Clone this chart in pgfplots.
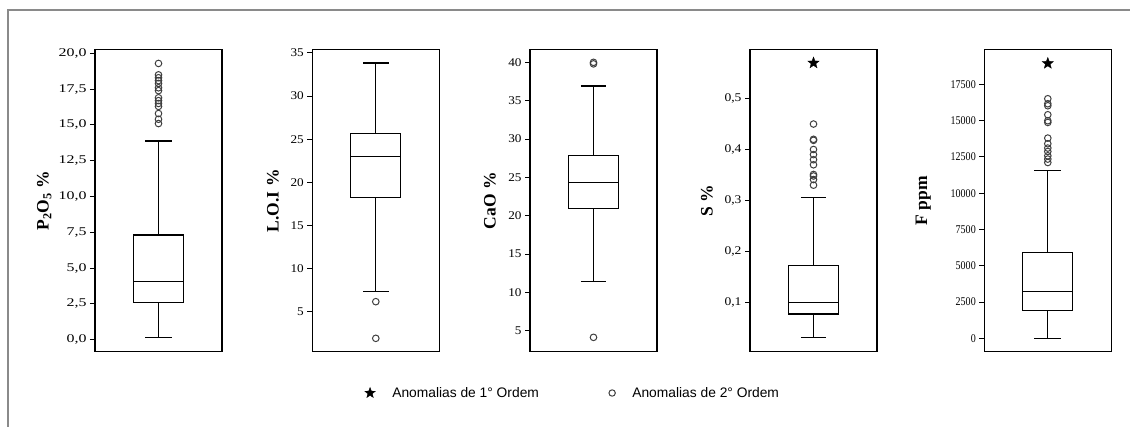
\documentclass[border=0pt]{standalone}
\usepackage{pgfplots}
\pgfplotsset{compat=1.18}
\usepgfplotslibrary{statistics}
\usepackage{fontspec}
\setmainfont{Liberation Serif}
\newfontfamily\legfont{Liberation Sans}
\newfontfamily\tickA[FakeStretch=1.35]{Liberation Serif}
\newfontfamily\tickB[FakeStretch=1.12]{Liberation Serif}
\newfontfamily\tickC[FakeStretch=1.15]{Liberation Serif}
\newfontfamily\tickD[FakeStretch=0.85]{Liberation Serif}

\pgfdeclareplotmark{fstar}{%
  \pgfpathmoveto{\pgfpointpolar{90}{\pgfplotmarksize}}%
  \pgfpathlineto{\pgfpointpolar{126}{0.42\pgfplotmarksize}}%
  \pgfpathlineto{\pgfpointpolar{162}{\pgfplotmarksize}}%
  \pgfpathlineto{\pgfpointpolar{198}{0.42\pgfplotmarksize}}%
  \pgfpathlineto{\pgfpointpolar{234}{\pgfplotmarksize}}%
  \pgfpathlineto{\pgfpointpolar{270}{0.42\pgfplotmarksize}}%
  \pgfpathlineto{\pgfpointpolar{306}{\pgfplotmarksize}}%
  \pgfpathlineto{\pgfpointpolar{342}{0.42\pgfplotmarksize}}%
  \pgfpathlineto{\pgfpointpolar{18}{\pgfplotmarksize}}%
  \pgfpathlineto{\pgfpointpolar{54}{0.42\pgfplotmarksize}}%
  \pgfpathclose
  \pgfusepathqfillstroke}

\definecolor{outl}{HTML}{404040}
\definecolor{frame}{HTML}{8A8A8A}

\pgfplotsset{
  panel/.style={
    scale only axis, width=127pt, height=302pt, anchor=south west,
    xmin=0, xmax=1, xtick=\empty,
    tick align=outside, ytick pos=left, major tick length=5pt,
    axis line style={line width=1.1pt}, major tick style={line width=1pt, black},
    scaled y ticks=false,
    /pgf/number format/assume math mode=true,
    ylabel style={font=\bfseries\fontsize{17.5}{19}\selectfont, anchor=center},
    boxplot/draw direction=y,
    clip=false,
  },
  outl/.style={only marks, mark=o, mark size=3.3pt, draw=outl, line width=1pt},
  anom/.style={only marks, mark=fstar, mark size=6pt, draw=black, fill=black, line width=0.3pt},
  bx/.style={draw=black, line width=1.1pt, solid},
}

\begin{document}
\begin{tikzpicture}
\useasboundingbox (0,0) rectangle (1130pt,427pt);
\draw[frame, line width=1.5pt] (1130pt,417pt) -- (8pt,417pt) -- (8pt,0pt);

% legend
\begin{axis}[at={(0pt,0pt)}, anchor=south west, scale only axis,
  width=1130pt, height=427pt, hide axis, xmin=0, xmax=1, ymin=0, ymax=1,
  legend columns=2,
  legend style={at={(0.507,0.0796)}, anchor=center, draw=none, fill=none,
    font=\legfont\fontsize{13.8}{16}\selectfont,
    /tikz/every odd column/.append style={column sep=15pt},
    /tikz/every even column/.append style={column sep=68pt}}]
\addlegendimage{only marks, mark=fstar, mark size=5.5pt, draw=black, fill=black}
\addlegendentry{Anomalias de 1° Ordem}
\addlegendimage{only marks, mark=o, mark size=3.2pt, draw=outl, line width=1pt}
\addlegendentry{Anomalias de 2° Ordem}
\end{axis}

% P2O5
\begin{axis}[panel, at={(95pt,75.3pt)}, ymin=-0.84, ymax=20.26,
  ytick={0,2.5,...,20},
  /pgf/number format/.cd, use comma, fixed, fixed zerofill, precision=1, /pgfplots/.cd,
  yticklabel style={font=\tickA\fontsize{11.8}{13}\selectfont},
  ylabel={P\textsubscript{2}O\textsubscript{5} \%},
  ylabel style={at={(axis description cs:-0.40,0.5)}}]
\addplot[bx, boxplot prepared={lower whisker=0.16, lower quartile=2.62, median=4.06,
  upper quartile=7.31, upper whisker=13.88, draw position=0.5, box extend=0.394, whisker extend=0.205}]
  coordinates {};
\addplot[outl] coordinates {(0.5,19.3) (0.5,18.5) (0.5,18.3) (0.5,18.1) (0.5,17.9) (0.5,17.6)
  (0.5,17.4) (0.5,16.9) (0.5,16.7) (0.5,16.5) (0.5,16.3) (0.5,15.8) (0.5,15.4) (0.5,15.1)};
\end{axis}

% L.O.I
\begin{axis}[panel, at={(312.3pt,75.3pt)}, ymin=0.36, ymax=35.38,
  ytick={5,10,...,35},
  yticklabel style={font=\tickB\fontsize{11.8}{13}\selectfont},
  ylabel={L.O.I \%},
  ylabel style={at={(axis description cs:-0.31,0.5)}}]
\addplot[bx, boxplot prepared={lower whisker=7.33, lower quartile=18.28, median=23.04,
  upper quartile=25.63, upper whisker=33.84, draw position=0.5, box extend=0.394, whisker extend=0.2}]
  coordinates {};
\addplot[outl] coordinates {(0.5,6.16) (0.5,1.91)};
\end{axis}

% CaO
\begin{axis}[panel, at={(530pt,75.3pt)}, ymin=2.26, ymax=41.65,
  ytick={5,10,...,40},
  yticklabel style={font=\tickB\fontsize{11.8}{13}\selectfont},
  ylabel={CaO \%},
  ylabel style={at={(axis description cs:-0.315,0.5)}}]
\addplot[bx, boxplot prepared={lower whisker=11.4, lower quartile=20.9, median=24.38,
  upper quartile=27.86, upper whisker=36.92, draw position=0.5, box extend=0.394, whisker extend=0.2}]
  coordinates {};
\addplot[outl] coordinates {(0.5,40.0) (0.5,39.8) (0.5,4.13)};
\end{axis}

% S
\begin{axis}[panel, at={(750pt,75.3pt)}, ymin=0.003, ymax=0.596,
  ytick={0.1,0.2,0.3,0.4,0.5},
  /pgf/number format/.cd, use comma, fixed, fixed zerofill, precision=1, /pgfplots/.cd,
  yticklabel style={font=\tickC\fontsize{11.8}{13}\selectfont},
  ylabel={S \%},
  ylabel style={at={(axis description cs:-0.34,0.5)}}]
\addplot[bx, boxplot prepared={lower whisker=0.03, lower quartile=0.077, median=0.1,
  upper quartile=0.173, upper whisker=0.305, draw position=0.5, box extend=0.394, whisker extend=0.2}]
  coordinates {};
\addplot[outl] coordinates {(0.5,0.45) (0.5,0.42) (0.5,0.418) (0.5,0.40) (0.5,0.39) (0.5,0.38)
  (0.5,0.37) (0.5,0.351) (0.5,0.348) (0.5,0.341) (0.5,0.33)};
\addplot[anom] coordinates {(0.5,0.57)};
\end{axis}

% F
\begin{axis}[panel, at={(984.3pt,75.3pt)}, ymin=-925, ymax=19894,
  ytick={0,2500,...,17500},
  /pgf/number format/.cd, fixed, 1000 sep={}, /pgfplots/.cd,
  yticklabel style={font=\tickD\fontsize{11.8}{13}\selectfont},
  ylabel={F ppm},
  ylabel style={at={(axis description cs:-0.48,0.5)}}]
\addplot[bx, boxplot prepared={lower whisker=0, lower quartile=1902, median=3240,
  upper quartile=5907, upper whisker=11566, draw position=0.5, box extend=0.394, whisker extend=0.21}]
  coordinates {};
\addplot[outl] coordinates {(0.5,16513) (0.5,16168) (0.5,16030) (0.5,15409) (0.5,14995) (0.5,14878)
  (0.5,13800) (0.5,13408) (0.5,13112) (0.5,12877) (0.5,12580) (0.5,12353) (0.5,12118)};
\addplot[anom] coordinates {(0.5,18950)};
\end{axis}
\end{tikzpicture}
\end{document}
